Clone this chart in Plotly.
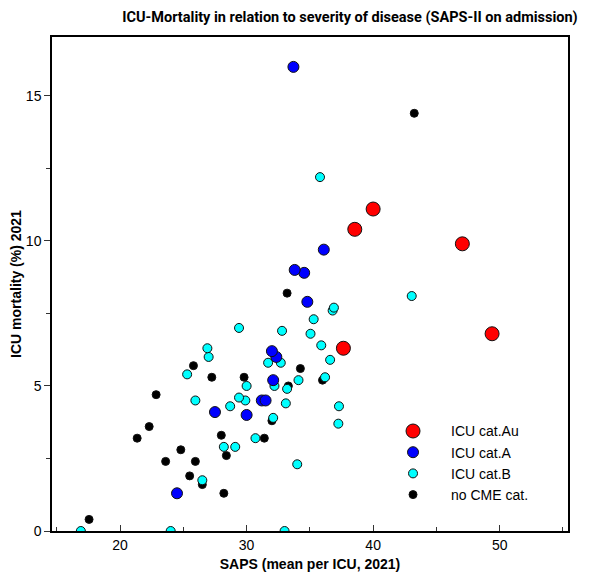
import plotly.graph_objects as go

# ---------------------------------------------------------------------------
# Daten: SAPS (x) und ICU-Mortalität in % (y) je Kategorie
# ---------------------------------------------------------------------------

nocat_saps = [17.55, 21.35, 22.3, 22.85, 23.6, 24.8, 25.5, 25.95, 25.8, 26.5, 27.25,
              28.0, 28.2, 28.4, 29.8, 31.4, 32.0, 33.3, 33.2, 34.25, 36.0, 43.25]
nocat_mort = [0.4, 3.2, 3.6, 4.7, 2.4, 2.8, 1.9, 2.4, 5.7, 1.6, 5.3,
              3.3, 1.3, 2.6, 5.3, 3.2, 3.8, 5.0, 8.2, 5.6, 5.2, 14.4]

catB_saps = [16.9, 24.0, 33.0, 26.5, 34.0, 28.2, 29.1, 30.7, 37.25, 32.1, 28.7, 37.3,
             33.1, 25.95, 29.9, 29.4, 33.2, 30.0, 32.2, 34.1, 36.2, 25.3, 31.7, 32.7,
             36.6, 27.0, 26.9, 35.9, 35.05, 32.8, 29.4, 35.3, 36.8, 36.9, 43.05, 35.8]
catB_mort = [0.0, 0.0, 0.0, 1.75, 2.3, 2.9, 2.9, 3.2, 3.7, 3.9, 4.3, 4.3,
             4.4, 4.5, 4.5, 4.6, 4.9, 5.0, 5.0, 5.2, 5.3, 5.4, 5.8, 5.8,
             5.9, 6.0, 6.3, 6.4, 6.8, 6.9, 7.0, 7.3, 7.6, 7.7, 8.1, 12.2]

catA_saps = [24.5, 30.0, 27.5, 31.2, 31.5, 32.1, 32.35, 32.0, 34.8, 34.55, 33.8, 36.1, 33.7]
catA_mort = [1.3, 4.0, 4.1, 4.5, 4.5, 5.2, 6.0, 6.2, 7.9, 8.9, 9.0, 9.7, 16.0]

catAu_saps = [37.65, 38.55, 40.0, 47.05, 49.4]
catAu_mort = [6.3, 10.4, 11.1, 9.9, 6.8]

x_ticks = [20, 30, 40, 50]
y_ticks = [0, 5, 10, 15]

# Reihenfolge der Ebenen: schwarz unten, rot oben
series = [
    ("no CME cat.", nocat_saps, nocat_mort, "#000000", 8),
    ("ICU cat.B", catB_saps, catB_mort, "#00ffff", 9),
    ("ICU cat.A", catA_saps, catA_mort, "#0000ff", 11),
    ("ICU cat.Au", catAu_saps, catAu_mort, "#ff0000", 14),
]

fig = go.Figure()
for name, xs, ys, color, size in series:
    fig.add_trace(go.Scatter(
        x=xs, y=ys, mode="markers", name=name,
        marker=dict(color=color, size=size, line=dict(color="#111111", width=1)),
        hovertemplate=name + "<br>SAPS %{x}<br>Mortalität %{y}%<extra></extra>",
    ))

axis_font = dict(family="Liberation Sans, Arial, sans-serif", size=14, color="#000000")

# Seite hat 8px body-Rand -> Figur entsprechend kleiner
W, H = 581, 568

fig.update_layout(
    width=W, height=H,
    margin=dict(l=44, r=21, t=29, b=45),
    plot_bgcolor="white",
    paper_bgcolor="white",
    title=dict(
        text="<b>ICU-Mortality in relation to severity of disease (SAPS-II on admission)</b>",
        font=dict(family="Roboto, Open Sans, sans-serif", size=14.5, color="#000000"),
        x=342 / W, xanchor="center", xref="container",
        y=1 - 9 / H, yanchor="middle", yref="container",
    ),
    legend=dict(
        x=0.626, y=0.234, xanchor="left", yanchor="top",
        traceorder="reversed",
        itemwidth=66,
        font=axis_font,
        bgcolor="rgba(0,0,0,0)",
    ),
)

fig.update_xaxes(
    range=[14.62, 55.4],
    tickvals=x_ticks,
    ticks="inside", ticklen=6, tickcolor="#333333",
    minor=dict(dtick=5, tick0=0, ticks="inside", ticklen=4, tickcolor="#333333"),
    showgrid=False, zeroline=False,
    showline=True, linecolor="#000000", linewidth=1.5, mirror=True,
    tickfont=axis_font, automargin=False,
    title=dict(text="<b>SAPS (mean per ICU, 2021)</b>", font=axis_font, standoff=8),
)
fig.update_yaxes(
    range=[0, 17.03],
    tickvals=y_ticks,
    ticks="outside", ticklen=6, tickcolor="#333333",
    minor=dict(dtick=2.5, tick0=0, ticks="outside", ticklen=4, tickcolor="#333333"),
    showgrid=False, zeroline=False,
    showline=True, linecolor="#000000", linewidth=1.5, mirror=True,
    tickfont=axis_font, automargin=False,
    title=dict(text="<b>ICU mortality (%) 2021</b>", font=axis_font, standoff=6),
)

fig.write_html("out.html")
